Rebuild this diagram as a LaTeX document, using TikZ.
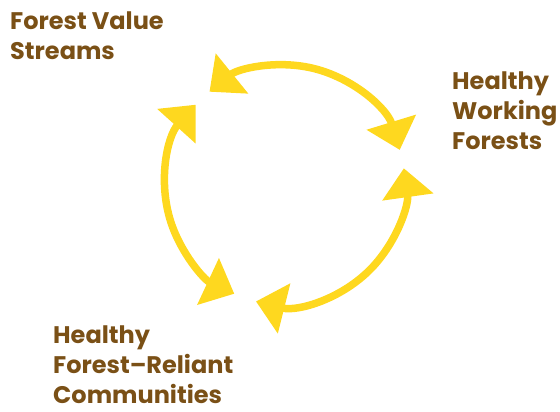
\documentclass[tikz,border=0pt]{standalone}
\usepackage{fontspec}
\setmainfont{Poppins}
\usepackage{xcolor}
\usepackage{tikz}
\usetikzlibrary{arrows.meta, positioning, calc}
\definecolor{cyclegold}{RGB}{254,216,31}
\definecolor{labelbrown}{RGB}{122,80,22}

\begin{document}
\begin{tikzpicture}[x=1pt, y=1pt,
    label/.style={anchor=north west, inner sep=0pt, align=left, text=labelbrown,
      font=\fontsize{24}{30}\selectfont\bfseries},
    cyclearrow/.style={draw=cyclegold, line width=7.5pt,
      {Triangle[length=29pt, width=50pt, fill=cyclegold]}-{Triangle[length=29pt, width=50pt, fill=cyclegold]}}]
  \useasboundingbox (0,0) rectangle (560,412);
  \coordinate (hub) at (285,227);
  % labels
  \node[label] (streams) at (10,400) {Forest Value\\Streams};
  \node[label] (forests) at (452,340) {Healthy\\Working\\Forests};
  \node[label] (communities) at (53,86) {Healthy\\Forest--Reliant\\Communities};
  % cycle
  \draw[cyclearrow] ($(hub)+(17:120)$) arc[start angle=17, end angle=129, radius=120];
  \draw[cyclearrow] ($(hub)+(138:120)$) arc[start angle=138, end angle=245, radius=120];
  \draw[cyclearrow] ($(hub)+(-104:120)$) arc[start angle=-104, end angle=8, radius=120];
\end{tikzpicture}
\end{document}
